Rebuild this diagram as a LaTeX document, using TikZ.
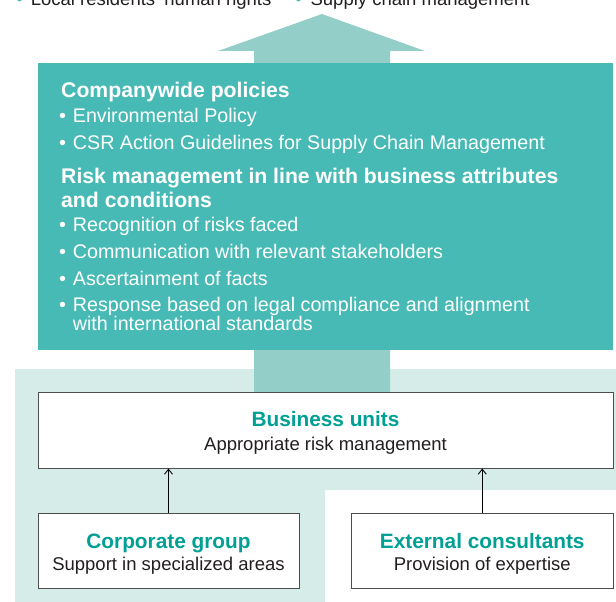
\documentclass[tikz,border=0pt]{standalone}
\usepackage{fontspec}
\setmainfont{Liberation Sans}
\usetikzlibrary{arrows.meta}
\definecolor{tealbox}{HTML}{48BAB5}
\definecolor{tealarrow}{HTML}{93CFC8}
\definecolor{lightbg}{HTML}{D6ECE9}
\definecolor{tealtext}{HTML}{00A095}
\definecolor{bodytext}{HTML}{231F20}
\definecolor{boxline}{HTML}{4D4D4D}
\begin{document}
\begin{tikzpicture}[x=1pt,y=-1pt,
  wbox/.style={draw=boxline, line width=1pt, fill=white, inner sep=0pt},
  wtxt/.style={inner sep=0pt, anchor=base west, text=white, font=\fontsize{19.7}{20}\selectfont},
  whead/.style={inner sep=0pt, anchor=base west, text=white, font=\fontsize{21.2}{22}\selectfont\bfseries},
  wbul/.style={inner sep=0pt, anchor=base, text=white, font=\fontsize{19.7}{20}\selectfont},
  toptxt/.style={inner sep=0pt, anchor=base west, text=bodytext, font=\fontsize{18.5}{20}\selectfont},
  topbul/.style={inner sep=0pt, anchor=base, text=tealbox, font=\fontsize{18.5}{20}\selectfont},
  bhead/.style={inner sep=0pt, anchor=base, text=tealtext, font=\fontsize{20.8}{22}\selectfont\bfseries},
  btxt/.style={inner sep=0pt, anchor=base, text=bodytext, font=\fontsize{18.5}{20}\selectfont},
  conn/.style={draw=black, line width=0.9pt, -{Straight Barb[length=5pt,width=8pt]}},
]
\useasboundingbox (0,0) rectangle (616,602);
% light background
\fill[lightbg] (15,369) -- (616,369) -- (616,490) -- (325,490) -- (325,602) -- (15,602) -- cycle;
% big upward arrow
\fill[tealarrow] (254,392) -- (254,51) -- (218,51) -- (322,14) -- (425,51) -- (390,51) -- (390,392) -- cycle;
% top line (cut off)
\node[topbul] (tb1) at (19.6,6) {•};
\node[toptxt] (tt1) at (30.6,6) {Local residents' human rights};
\node[topbul] (tb2) at (298.6,6) {•};
\node[toptxt] (tt2) at (310.4,6) {Supply chain management};
% teal policy box
\node[fill=tealbox, minimum width=575pt, minimum height=286.5pt, inner sep=0pt] (pol) at (325.5,206.75) {};
\node[whead] (h1) at (61,97.5) {Companywide policies};
\node[wbul] (b1) at (62.5,122.3) {•};
\node[wtxt] (t1) at (72.7,122.3) {Environmental Policy};
\node[wbul] (b2) at (62.5,149) {•};
\node[wtxt] (t2) at (72.7,149) {CSR Action Guidelines for Supply Chain Management};
\node[whead] (h2) at (61,183.5) {Risk management in line with business attributes};
\node[whead] (h3) at (61,207.7) {and conditions};
\node[wbul] (b3) at (62.5,231.7) {•};
\node[wtxt] (t3) at (72.7,231.7) {Recognition of risks faced};
\node[wbul] (b4) at (62.5,258.7) {•};
\node[wtxt] (t4) at (72.7,258.7) {Communication with relevant stakeholders};
\node[wbul] (b5) at (62.5,285.7) {•};
\node[wtxt] (t5) at (72.7,285.7) {Ascertainment of facts};
\node[wbul] (b6) at (62.5,311.8) {•};
\node[wtxt] (t6) at (72.7,311.8) {Response based on legal compliance and alignment};
\node[wtxt] (t7) at (72.7,330.6) {with international standards};
% business units box
\node[wbox, minimum width=575pt, minimum height=76pt] (bu) at (325.5,430) {};
\node[bhead] (buh) at (325.5,426) {Business units};
\node[btxt] (but) at (325.5,450) {Appropriate risk management};
% corporate group
\node[wbox, minimum width=261pt, minimum height=75pt] (corp) at (168.5,550.5) {};
\node[bhead] (corph) at (168.5,548.3) {Corporate group};
\node[btxt] (corpt) at (168.5,570.7) {Support in specialized areas};
% external consultants
\node[wbox, minimum width=262.5pt, minimum height=75pt] (ext) at (482.25,550.5) {};
\node[bhead] (exth) at (482.25,548.3) {External consultants};
\node[btxt] (extt) at (482.25,570.7) {Provision of expertise};
% connectors
\draw[conn] (corp.north) -- (corp.north |- bu.south);
\draw[conn] (ext.north) -- (ext.north |- bu.south);
\end{tikzpicture}
\end{document}
